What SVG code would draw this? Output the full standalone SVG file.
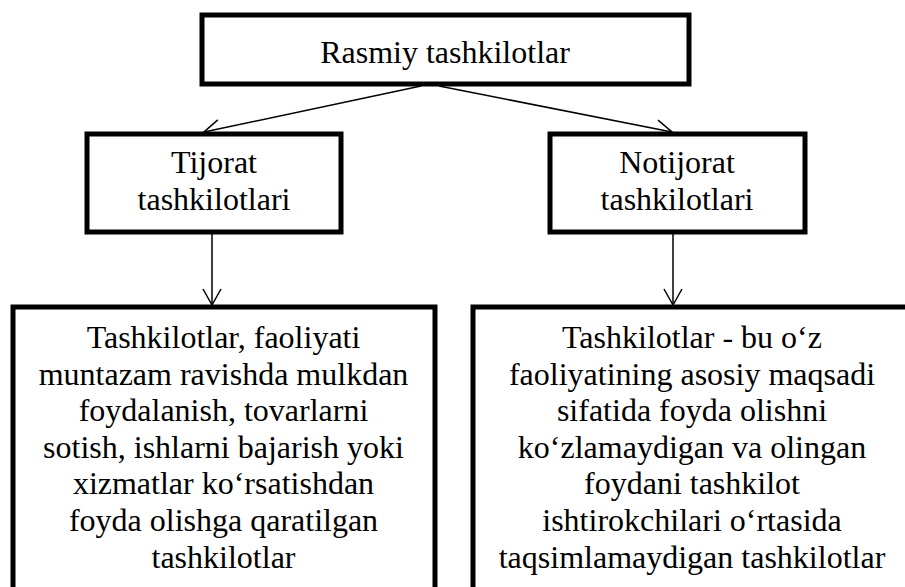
<svg xmlns="http://www.w3.org/2000/svg" width="905" height="587" viewBox="0 0 905 587">
  <style>
    .box { fill: #ffffff; stroke: #000000; stroke-width: 5; }
    .link { stroke: #000000; stroke-width: 1.5; fill: none; marker-end: url(#open-arrow); }
    text { font-family: 'Liberation Serif', 'Times New Roman', serif; font-size: 32px; fill: #000000; text-anchor: middle; }
  </style>
  <defs>
    <!-- open two-stroke arrowhead used by every connector -->
    <marker id="open-arrow" markerUnits="userSpaceOnUse" markerWidth="24" markerHeight="24" viewBox="-20 -12 24 24" refX="0" refY="0" orient="auto">
      <path d="M -16,-9 L 0,0 L -16,9" fill="none" stroke="#000000" stroke-width="1.5"/>
    </marker>
  </defs>
  <rect width="905" height="587" fill="#ffffff"/>

  <g id="connectors">
    <line class="link" x1="421" y1="86" x2="204" y2="132"/>
    <line class="link" x1="439" y1="86" x2="672" y2="132"/>
    <line class="link" x1="212" y1="234" x2="212" y2="305"/>
    <line class="link" x1="673" y1="234" x2="673" y2="305"/>
  </g>

  <g id="node-rasmiy">
    <rect class="box" x="202" y="15" width="487" height="69"/>
    <text x="445" y="63">Rasmiy tashkilotlar</text>
  </g>

  <g id="node-tijorat">
    <rect class="box" x="87" y="134" width="254" height="98"/>
    <text x="214" y="173">Tijorat</text>
    <text x="214" y="210">tashkilotlari</text>
  </g>

  <g id="node-notijorat">
    <rect class="box" x="550" y="134" width="255" height="98"/>
    <text x="677" y="173">Notijorat</text>
    <text x="677" y="210">tashkilotlari</text>
  </g>

  <g id="node-tijorat-desc">
    <rect class="box" x="13" y="307" width="422" height="300"/>
    <text x="223.5" y="348">Tashkilotlar, faoliyati</text>
    <text x="223.5" y="384.6">muntazam ravishda mulkdan</text>
    <text x="223.5" y="421.2">foydalanish, tovarlarni</text>
    <text x="223.5" y="457.8">sotish, ishlarni bajarish yoki</text>
    <text x="223.5" y="494.4">xizmatlar ko‘rsatishdan</text>
    <text x="223.5" y="531">foyda olishga qaratilgan</text>
    <text x="223.5" y="567.6">tashkilotlar</text>
  </g>

  <g id="node-notijorat-desc">
    <rect class="box" x="473" y="307" width="450" height="300"/>
    <text x="692" y="348">Tashkilotlar - bu o‘z</text>
    <text x="692" y="384.6">faoliyatining asosiy maqsadi</text>
    <text x="692" y="421.2">sifatida foyda olishni</text>
    <text x="692" y="457.8">ko‘zlamaydigan va olingan</text>
    <text x="692" y="494.4">foydani tashkilot</text>
    <text x="692" y="531">ishtirokchilari o‘rtasida</text>
    <text x="692" y="567.6">taqsimlamaydigan tashkilotlar</text>
  </g>
</svg>
